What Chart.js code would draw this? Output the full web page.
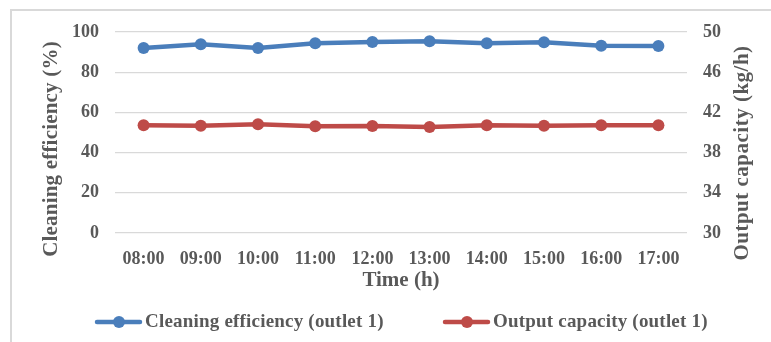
<!DOCTYPE html>
<html><head><meta charset="utf-8">
<script src="https://cdn.jsdelivr.net/npm/chart.js@4/dist/chart.umd.min.js"></script>
<style>
html,body{margin:0;padding:0;background:#fff;overflow:hidden;}
#wrap{position:relative;width:771px;height:342px;overflow:hidden;}
#frame{position:absolute;left:10px;top:9px;width:820px;height:420px;border:2px solid #d9d9d9;box-sizing:border-box;}
canvas{position:absolute;left:0;top:0;}
</style></head><body>
<div id="wrap"><div id="frame"></div><canvas id="c" width="771" height="342"></canvas></div>
<script>
const categories = ['08:00','09:00','10:00','11:00','12:00','13:00','14:00','15:00','16:00','17:00'];
const efficiency = [92.0, 93.9, 92.0, 94.4, 95.0, 95.4, 94.4, 94.9, 93.2, 93.0];
const capacity = [40.71, 40.68, 40.82, 40.62, 40.65, 40.55, 40.73, 40.68, 40.71, 40.71];
const leftTickValues = [0, 20, 40, 60, 80, 100];
const rightTickValues = [30, 34, 38, 42, 46, 50];
const seriesLabels = ['Cleaning efficiency (outlet 1)', 'Output capacity (outlet 1)'];
const axisTitles = {x: 'Time (h)', left: 'Cleaning efficiency (%)', right: 'Output capacity (kg/h)'};

const BLUE = '#4a7ebb';
const RED = '#be4b48';
const TXT = '#595959';
const FONT = '"Liberation Serif", "Times New Roman", serif';

const overlay = {
  id: 'overlay',
  afterDraw(chart) {
    const ctx = chart.ctx;
    ctx.save();
    ctx.fillStyle = TXT;
    ctx.textAlign = 'center';
    ctx.textBaseline = 'middle';
    ctx.font = 'bold 21px ' + FONT;
    // left title
    ctx.save();
    ctx.letterSpacing = '0.2px';
    ctx.translate(52, 149);
    ctx.rotate(-Math.PI / 2);
    ctx.fillText(axisTitles.left, 0, 0);
    ctx.restore();
    // right title
    ctx.save();
    ctx.letterSpacing = '0.5px';
    ctx.translate(743, 153);
    ctx.rotate(-Math.PI / 2);
    ctx.fillText(axisTitles.right, 0, 0);
    ctx.restore();
    // legend
    const starts = [97, 445];
    chart.data.datasets.forEach((ds, i) => {
      const x = starts[i], y = 322;
      ctx.strokeStyle = ds.borderColor;
      ctx.lineWidth = 4.5;
      ctx.lineCap = 'round';
      ctx.beginPath(); ctx.moveTo(x, y); ctx.lineTo(x + 43, y); ctx.stroke();
      ctx.fillStyle = ds.borderColor;
      ctx.beginPath(); ctx.arc(x + 22, y, 6, 0, Math.PI * 2); ctx.fill();
      ctx.fillStyle = TXT;
      ctx.textAlign = 'left';
      ctx.font = 'bold 19px ' + FONT;
      ctx.letterSpacing = '0.2px';
      ctx.fillText(ds.label, x + 48, y);
      ctx.letterSpacing = '0px';
    });
    ctx.restore();
  }
};

new Chart(document.getElementById('c'), {
  type: 'line',
  data: {
    labels: categories,
    datasets: [
      {label: seriesLabels[0], data: efficiency, yAxisID: 'y', borderColor: BLUE, backgroundColor: BLUE,
       borderWidth: 4.5, pointRadius: 6, pointBorderWidth: 0, pointBackgroundColor: BLUE, tension: 0},
      {label: seriesLabels[1], data: capacity, yAxisID: 'y1', borderColor: RED, backgroundColor: RED,
       borderWidth: 4.5, pointRadius: 6, pointBorderWidth: 0, pointBackgroundColor: RED, tension: 0}
    ]
  },
  options: {
    responsive: false,
    animation: false,
    devicePixelRatio: 1,
    layout: {padding: {top: 32, left: 0, right: 0, bottom: 0}},
    plugins: {legend: {display: false}, tooltip: {enabled: false}},
    scales: {
      x: {
        offset: true,
        grid: {display: false},
        border: {display: false},
        ticks: {color: TXT, font: {family: FONT, size: 18, weight: 'bold'}, padding: 8, maxRotation: 0},
        title: {display: true, text: axisTitles.x, color: TXT, font: {family: FONT, size: 21, weight: 'bold'}, padding: {top: 0, bottom: 49}},
        afterFit(s) { s.height = 109; }
      },
      y: {
        position: 'left', min: 0, max: 100,
        afterBuildTicks(s) { s.ticks = leftTickValues.map(v => ({value: v})); },
        grid: {color: '#d9d9d9', lineWidth: 1.3, drawTicks: false},
        border: {display: false},
        ticks: {color: TXT, font: {family: FONT, size: 18, weight: 'bold'}, padding: 16},
        afterFit(s) { s.width = 115; }
      },
      y1: {
        position: 'right', min: 30, max: 50,
        afterBuildTicks(s) { s.ticks = rightTickValues.map(v => ({value: v})); },
        grid: {display: false, drawTicks: false},
        border: {display: false},
        ticks: {color: TXT, font: {family: FONT, size: 18, weight: 'bold'}, padding: 16},
        afterFit(s) { s.width = 84; }
      }
    }
  },
  plugins: [overlay]
});
</script>
</body></html>
